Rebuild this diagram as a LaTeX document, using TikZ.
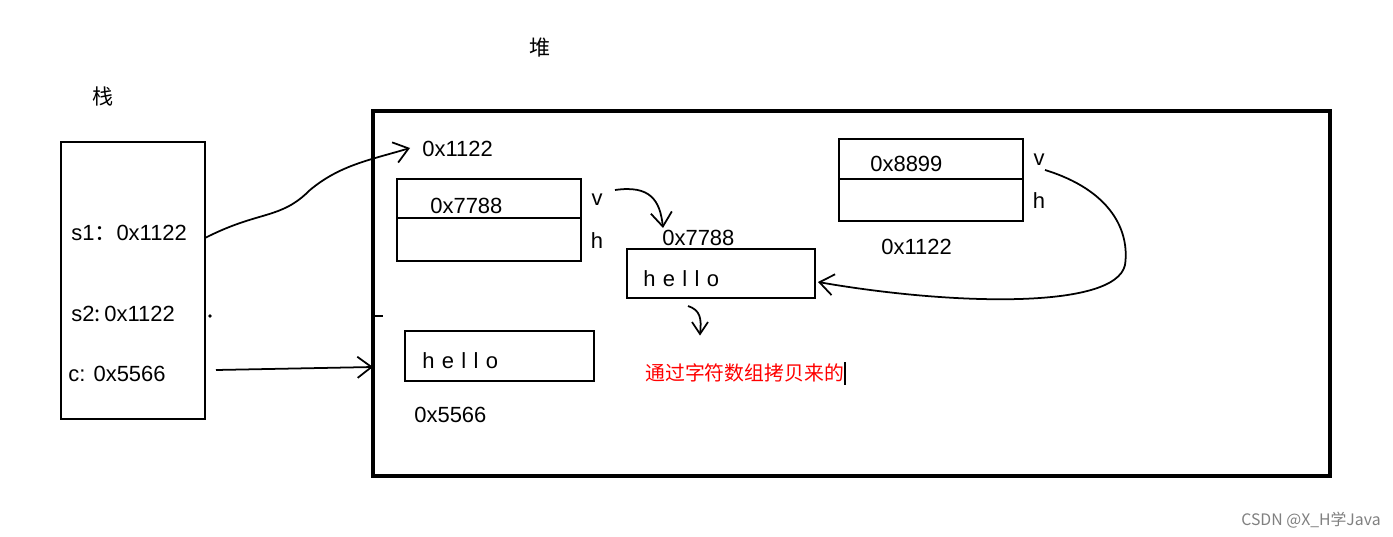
\documentclass[tikz,border=0pt]{standalone}
\usepackage{fontspec}
\setmainfont{Liberation Sans}
\newfontfamily\cjk{Noto Sans CJK SC}
\usetikzlibrary{arrows.meta}
\begin{document}
\begin{tikzpicture}[x=0.02cm,y=-0.02cm,
  box/.style={draw,line width=1.2pt},
  lbl/.style={font=\fontsize{12.5}{15}\selectfont,inner sep=0pt},
  arr/.style={line width=1pt,-{Straight Barb[length=8pt,width=12pt]}},
  ln/.style={line width=1pt}]
\useasboundingbox[fill=white] (0,0) rectangle (1393,537);
\node[lbl,font=\cjk\fontsize{12}{14}\selectfont] (heapT) at (540,48) {堆};
\node[lbl,font=\cjk\fontsize{12}{14}\selectfont] (stackT) at (103,96) {栈};
\draw[box] (61,142) rectangle (205,419);
\node[lbl,anchor=west] (s1) at (71,233) {s1{\cjk：}0x1122};
\node[lbl,anchor=west] (s2) at (71,314) {s2{\cjk:}\,0x1122};
\node[lbl,anchor=west] (c) at (68,374) {c: 0x5566};
\draw[line width=2pt] (373,111) rectangle (1330,476);
% box1
\draw[box] (397,179) rectangle (581,261);
\draw[ln] (397,218) -- (581,218);
\node[lbl,anchor=west] (b1a) at (430,206) {0x7788};
\node[lbl] (b1v) at (597,200) {v};
\node[lbl] (b1h) at (597,241) {h};
\node[lbl,anchor=west] (b1addr) at (422,149) {0x1122};
% box2
\draw[box] (627,249) rectangle (815,298);
\node[lbl,anchor=west] (h2) at (643,279) {h\,\,e\,\,l\,\,l\,\,o};
\node[lbl,anchor=west] (a2) at (662,238) {0x7788};
% box3
\draw[box] (839,139) rectangle (1023,221);
\draw[ln] (839,179) -- (1023,179);
\node[lbl,anchor=west] (b3a) at (870,164) {0x8899};
\node[lbl] (b3v) at (1039,160) {v};
\node[lbl] (b3h) at (1039,201) {h};
\node[lbl,anchor=west] (b3addr) at (881,247) {0x1122};
% box4
\draw[box] (405,331) rectangle (594,381);
\node[lbl,anchor=west] (h4) at (422,361) {h\,\,e\,\,l\,\,l\,\,o};
\node[lbl,anchor=west] (a4) at (414,415) {0x5566};
\node[lbl,anchor=west,text=red,font=\cjk\fontsize{11.3}{13}\selectfont] (red) at (645,373) {通过字符数组拷贝来的};
\draw[ln] (845,362) -- (845,385);
\node[lbl,text=gray,font=\cjk\fontsize{9}{11}\selectfont] (wm) at (1311,520) {CSDN @X\_H学Java};
% arrows
\coordinate (p1) at (205,238);
\coordinate (p1e) at (410,148);
\draw[arr] (p1) .. controls (260,210) and (280,220) .. (310,190) .. controls (340,165) and (370,160) .. (p1e);
\draw[arr] (216,370) -- (373,367);
\draw[arr] (615,190) .. controls (650,185) and (660,200) .. (663,228);
\draw[arr] (1045,170) .. controls (1110,190) and (1130,230) .. (1125,265) .. controls (1115,310) and (950,305) .. (818,282);
\draw[ln] (688,306) .. controls (700,310) and (702,318) .. (700,334);
\draw[ln] (692,322) -- (700,334) -- (708,322);
\fill (210,316) circle (1pt);
\draw[ln] (371,316) -- (383,316);
\end{tikzpicture}
\end{document}
